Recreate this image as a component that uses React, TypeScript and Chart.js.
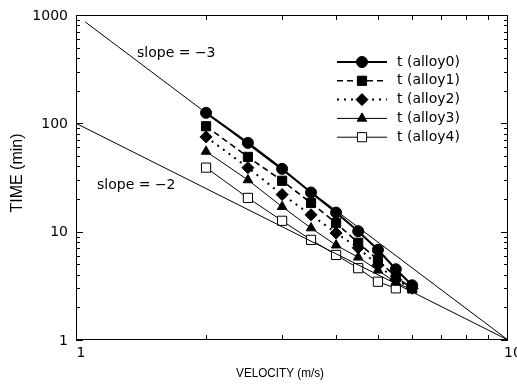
import React, { useEffect, useRef } from 'react';
import { Chart, registerables } from 'chart.js';
import { drawPoint } from 'chart.js/helpers';

Chart.register(...registerables);

// ---- data ----
const velocity = [2, 2.5, 3, 3.5, 4, 4.5, 5, 5.5, 6];
const alloy0 = [125, 66, 38, 23, 15, 10.1, 6.8, 4.5, 3.2];
const alloy1 = [94, 49, 29.5, 18.4, 12, 7.9, 5.5, 3.8, 3.0];
const alloy2 = [75, 39, 22, 14.3, 9.7, 7.1, 4.9, 3.6, 3.0];
const alloy3 = [55, 30, 17, 10.8, 7.5, 5.8, 4.4, 3.4, 2.9];
const alloy4 = [39, 20.5, 12.6, 8.4, 6.1, 4.6, 3.45, 3.0];
const seriesLabels = ['t (alloy0)', 't (alloy1)', 't (alloy2)', 't (alloy3)', 't (alloy4)'];
const seriesValues = [alloy0, alloy1, alloy2, alloy3, alloy4];

const slope3V = [1.05, 10];
const slope3T = [864, 1];
const slope2V = [1, 10];
const slope2T = [100, 1];
const slopeLabels = ['slope = \u22123', 'slope = \u22122'];

const xTickValues = [1, 10];
const yTickValues = [1, 10, 100, 1000];
const xTitle = 'VELOCITY (m/s)';
const yTitle = 'TIME (min)';

// ---- styles ----
const seriesStyles = [
  { pointStyle: 'circle', radius: 5.5, dash: [] as number[], width: 2, fill: '#000' },
  { pointStyle: 'rect', radius: 6.5, dash: [6, 4], width: 1.6, fill: '#000' },
  { pointStyle: 'rectRot', radius: 6, dash: [2, 5], width: 2, fill: '#000' },
  { pointStyle: 'triangle', radius: 5.5, dash: [] as number[], width: 1, fill: '#000' },
  { pointStyle: 'rect', radius: 6.5, dash: [] as number[], width: 1, fill: '#fff' },
];

const LABEL_FONT = "14px 'DejaVu Sans'";
const XTITLE_FONT = "13px 'Liberation Sans'";
const YTITLE_FONT = "16px 'Liberation Sans'";

const decorPlugin = {
  id: 'decor',
  afterDraw(chart: any) {
    const ctx = chart.ctx as CanvasRenderingContext2D;
    const { left, right, top, bottom } = chart.chartArea;
    const xs = chart.scales.x;
    const ys = chart.scales.y;
    ctx.save();
    ctx.strokeStyle = '#000';
    ctx.fillStyle = '#000';
    ctx.lineWidth = 1;
    ctx.setLineDash([]);
    // frame
    ctx.strokeRect(left + 0.5, top + 0.5, right - left - 1, bottom - top - 1);
    // y ticks (both sides)
    ctx.beginPath();
    for (let k = 0; k < 3; k++) {
      for (let m = 1; m <= 9; m++) {
        const v = m * Math.pow(10, k);
        const py = Math.round(ys.getPixelForValue(v)) + 0.5;
        const len = m === 1 ? 7 : 4;
        ctx.moveTo(left, py); ctx.lineTo(left + len, py);
        ctx.moveTo(right, py); ctx.lineTo(right - len, py);
      }
    }
    // x ticks (top & bottom)
    for (let m = 2; m <= 9; m++) {
      const px = Math.round(xs.getPixelForValue(m)) + 0.5;
      ctx.moveTo(px, bottom); ctx.lineTo(px, bottom - 5);
      ctx.moveTo(px, top); ctx.lineTo(px, top + 5);
    }
    ctx.stroke();

    // tick labels
    ctx.font = LABEL_FONT;
    ctx.textAlign = 'right';
    ctx.textBaseline = 'middle';
    yTickValues.forEach((v) => {
      ctx.fillText(String(v), left - 8, ys.getPixelForValue(v) + 1);
    });
    ctx.textAlign = 'center';
    ctx.textBaseline = 'top';
    xTickValues.forEach((v) => {
      ctx.fillText(String(v), xs.getPixelForValue(v) + 5, bottom + 6);
    });

    // axis titles
    ctx.textAlign = 'center';
    ctx.textBaseline = 'middle';
    ctx.save();
    ctx.font = XTITLE_FONT;
    ctx.translate(280, 373);
    ctx.scale(0.9, 1);
    ctx.fillText(xTitle, 0, 0);
    ctx.restore();
    ctx.save();
    ctx.font = YTITLE_FONT;
    ctx.translate(18, 173);
    ctx.rotate(-Math.PI / 2);
    ctx.fillText(yTitle, 0, 0);
    ctx.restore();

    // slope annotations
    ctx.font = LABEL_FONT;
    ctx.textAlign = 'left';
    ctx.textBaseline = 'middle';
    ctx.fillText(slopeLabels[0], 137, 53);
    ctx.fillText(slopeLabels[1], 97, 185);

    // legend
    const lx0 = right - 171;
    const lx1 = right - 121;
    const mx = (lx0 + lx1) / 2;
    seriesLabels.forEach((lab, i) => {
      const st = seriesStyles[i];
      const ly = top + 47 + i * 18.8;
      ctx.save();
      ctx.lineWidth = st.width;
      ctx.setLineDash(st.dash);
      ctx.beginPath();
      ctx.moveTo(lx0, ly); ctx.lineTo(lx1, ly);
      ctx.stroke();
      ctx.restore();
      ctx.save();
      ctx.fillStyle = st.fill;
      ctx.strokeStyle = '#000';
      ctx.lineWidth = 1;
      ctx.setLineDash([]);
      drawPoint(ctx, { pointStyle: st.pointStyle as any, radius: st.radius, rotation: 0, borderWidth: 1 }, mx, ly);
      ctx.restore();
      ctx.font = LABEL_FONT;
      ctx.textAlign = 'left';
      ctx.textBaseline = 'middle';
      ctx.fillStyle = '#000';
      ctx.fillText(lab, lx1 + 10, ly);
    });
    ctx.restore();
  },
};

export default function App() {
  const ref = useRef<HTMLCanvasElement | null>(null);
  useEffect(() => {
    if (!ref.current) return;
    const datasets: any[] = [
      {
        label: 'slope -3',
        data: slope3V.map((v, i) => ({ x: v, y: slope3T[i] })),
        borderColor: '#000', borderWidth: 1, pointRadius: 0, fill: false,
      },
      {
        label: 'slope -2',
        data: slope2V.map((v, i) => ({ x: v, y: slope2T[i] })),
        borderColor: '#000', borderWidth: 1, pointRadius: 0, fill: false,
      },
    ];
    seriesValues.forEach((vals, i) => {
      const st = seriesStyles[i];
      datasets.push({
        label: seriesLabels[i],
        data: vals.map((y, j) => ({ x: velocity[j], y })),
        borderColor: '#000',
        borderWidth: st.width,
        borderDash: st.dash,
        pointStyle: st.pointStyle,
        pointRadius: st.radius,
        pointBackgroundColor: st.fill,
        pointBorderColor: '#000',
        pointBorderWidth: 1,
        fill: false,
        tension: 0,
      });
    });
    const chart = new Chart(ref.current, {
      type: 'line',
      data: { datasets },
      options: {
        responsive: false,
        animation: false,
        events: [],
        layout: { padding: { left: 76, right: 9, top: 15, bottom: 51 } },
        plugins: { legend: { display: false }, tooltip: { enabled: false } },
        scales: {
          x: { type: 'logarithmic', min: 1, max: 10, display: false },
          y: { type: 'logarithmic', min: 1, max: 1000, display: false },
        },
      },
      plugins: [decorPlugin],
    } as any);
    return () => chart.destroy();
  }, []);
  return (
    <div style={{ position: 'absolute', left: 0, top: 0, width: 517, height: 391, background: '#fff' }}>
      <canvas ref={ref} width={517} height={391} style={{ display: 'block' }} />
    </div>
  );
}
